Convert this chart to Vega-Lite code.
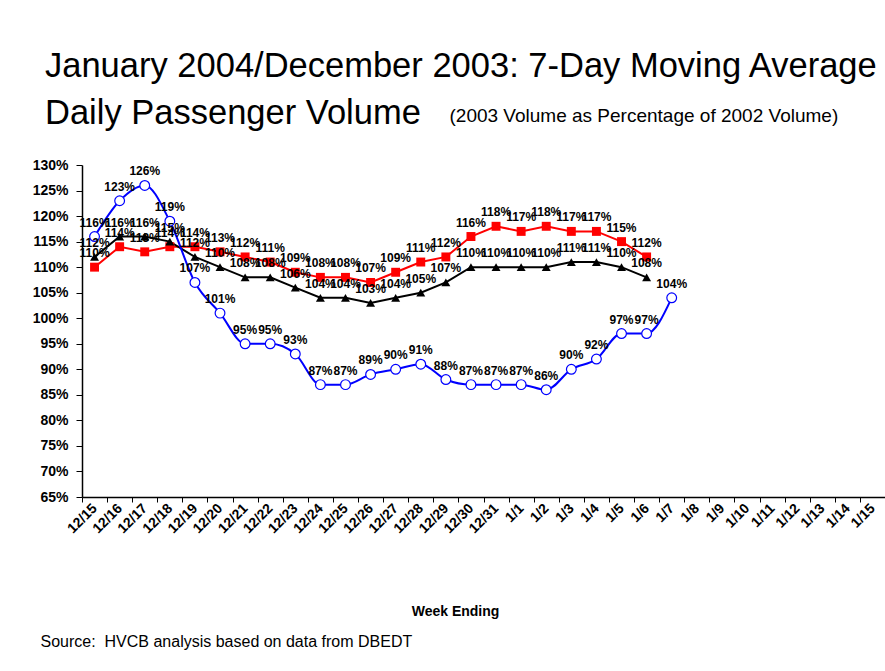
{
  "$schema": "https://vega.github.io/schema/vega-lite/v6.json",
  "width": 803,
  "height": 332,
  "autosize": {"type": "none"},
  "padding": {"left": 82, "top": 165, "right": 0, "bottom": 174},
  "background": "white",
  "config": {"view": {"stroke": null}, "font": "Liberation Sans"},
  "title": {
    "text": ["January 2004/December 2003: 7-Day Moving Average", "Daily Passenger Volume"],
    "anchor": "start",
    "frame": "group",
    "dx": -37,
    "dy": 52,
    "font": "Liberation Sans",
    "fontSize": 34.5,
    "fontWeight": "normal",
    "lineHeight": 47,
    "color": "black",
    "offset": 27
  },
  "data": {
    "values": [
      {"d": "12/15", "s": "Domestic", "v": 110}, {"d": "12/16", "s": "Domestic", "v": 114}, {"d": "12/17", "s": "Domestic", "v": 113},
      {"d": "12/18", "s": "Domestic", "v": 114}, {"d": "12/19", "s": "Domestic", "v": 114}, {"d": "12/20", "s": "Domestic", "v": 113},
      {"d": "12/21", "s": "Domestic", "v": 112}, {"d": "12/22", "s": "Domestic", "v": 111}, {"d": "12/23", "s": "Domestic", "v": 109},
      {"d": "12/24", "s": "Domestic", "v": 108}, {"d": "12/25", "s": "Domestic", "v": 108}, {"d": "12/26", "s": "Domestic", "v": 107},
      {"d": "12/27", "s": "Domestic", "v": 109}, {"d": "12/28", "s": "Domestic", "v": 111}, {"d": "12/29", "s": "Domestic", "v": 112},
      {"d": "12/30", "s": "Domestic", "v": 116}, {"d": "12/31", "s": "Domestic", "v": 118}, {"d": "1/1", "s": "Domestic", "v": 117},
      {"d": "1/2", "s": "Domestic", "v": 118}, {"d": "1/3", "s": "Domestic", "v": 117}, {"d": "1/4", "s": "Domestic", "v": 117},
      {"d": "1/5", "s": "Domestic", "v": 115}, {"d": "1/6", "s": "Domestic", "v": 112},
      {"d": "12/15", "s": "Total", "v": 112}, {"d": "12/16", "s": "Total", "v": 116}, {"d": "12/17", "s": "Total", "v": 116},
      {"d": "12/18", "s": "Total", "v": 115}, {"d": "12/19", "s": "Total", "v": 112}, {"d": "12/20", "s": "Total", "v": 110},
      {"d": "12/21", "s": "Total", "v": 108}, {"d": "12/22", "s": "Total", "v": 108}, {"d": "12/23", "s": "Total", "v": 106},
      {"d": "12/24", "s": "Total", "v": 104}, {"d": "12/25", "s": "Total", "v": 104}, {"d": "12/26", "s": "Total", "v": 103},
      {"d": "12/27", "s": "Total", "v": 104}, {"d": "12/28", "s": "Total", "v": 105}, {"d": "12/29", "s": "Total", "v": 107},
      {"d": "12/30", "s": "Total", "v": 110}, {"d": "12/31", "s": "Total", "v": 110}, {"d": "1/1", "s": "Total", "v": 110},
      {"d": "1/2", "s": "Total", "v": 110}, {"d": "1/3", "s": "Total", "v": 111}, {"d": "1/4", "s": "Total", "v": 111},
      {"d": "1/5", "s": "Total", "v": 110}, {"d": "1/6", "s": "Total", "v": 108},
      {"d": "12/15", "s": "Japan", "v": 116}, {"d": "12/16", "s": "Japan", "v": 123}, {"d": "12/17", "s": "Japan", "v": 126},
      {"d": "12/18", "s": "Japan", "v": 119}, {"d": "12/19", "s": "Japan", "v": 107}, {"d": "12/20", "s": "Japan", "v": 101},
      {"d": "12/21", "s": "Japan", "v": 95}, {"d": "12/22", "s": "Japan", "v": 95}, {"d": "12/23", "s": "Japan", "v": 93},
      {"d": "12/24", "s": "Japan", "v": 87}, {"d": "12/25", "s": "Japan", "v": 87}, {"d": "12/26", "s": "Japan", "v": 89},
      {"d": "12/27", "s": "Japan", "v": 90}, {"d": "12/28", "s": "Japan", "v": 91}, {"d": "12/29", "s": "Japan", "v": 88},
      {"d": "12/30", "s": "Japan", "v": 87}, {"d": "12/31", "s": "Japan", "v": 87}, {"d": "1/1", "s": "Japan", "v": 87},
      {"d": "1/2", "s": "Japan", "v": 86}, {"d": "1/3", "s": "Japan", "v": 90}, {"d": "1/4", "s": "Japan", "v": 92},
      {"d": "1/5", "s": "Japan", "v": 97}, {"d": "1/6", "s": "Japan", "v": 97}, {"d": "1/7", "s": "Japan", "v": 104}
    ]
  },
  "resolve": {"axis": {"y": "independent"}},
  "layer": [
    {
      "encoding": {
        "x": {
          "field": "d",
          "type": "nominal",
          "sort": null,
          "scale": {
            "type": "band",
            "paddingInner": 0,
            "paddingOuter": 0,
            "domain": ["12/15","12/16","12/17","12/18","12/19","12/20","12/21","12/22","12/23","12/24","12/25","12/26","12/27","12/28","12/29","12/30","12/31","1/1","1/2","1/3","1/4","1/5","1/6","1/7","1/8","1/9","1/10","1/11","1/12","1/13","1/14","1/15"]
          },
          "axis": {
            "title": "Week Ending",
            "titleFont": "Liberation Sans",
            "titleFontWeight": "bold",
            "titleFontSize": 14,
            "titleColor": "black",
            "titleX": 373,
            "titleY": 118,
            "titleAlign": "center",
            "titleBaseline": "alphabetic",
            "titleAnchor": null,
            "labelAngle": -45,
            "labelAlign": "right",
            "labelBaseline": "middle",
            "labelFontWeight": "bold",
            "labelFontSize": 14,
            "labelColor": "black",
            "labelPadding": 4,
            "tickBand": "extent",
            "tickColor": "black",
            "tickSize": 5,
            "domainColor": "black",
            "domainWidth": 1.5,
            "grid": false
          }
        },
        "y": {
          "field": "v",
          "type": "quantitative",
          "scale": {"domain": [65, 130], "nice": false, "zero": false},
          "axis": {
            "orient": "left",
            "title": "Source:\u00a0 HVCB analysis based on data from DBEDT",
            "titleFont": "Liberation Sans",
            "titleAngle": 0,
            "titleX": -42,
            "titleY": 481,
            "titleAlign": "left",
            "titleBaseline": "alphabetic",
            "titleAnchor": null,
            "titleFontWeight": "normal",
            "titleFontSize": 16,
            "titleColor": "black",
            "values": [65, 70, 75, 80, 85, 90, 95, 100, 105, 110, 115, 120, 125, 130],
            "labelExpr": "datum.value + '%'",
            "labelFontWeight": "bold",
            "labelFontSize": 14,
            "labelColor": "black",
            "labelPadding": 8,
            "tickSize": 6,
            "tickColor": "black",
            "domainColor": "black",
            "domainWidth": 1.5,
            "grid": false
          }
        }
      },
      "layer": [
        {
          "data": {"values": [{}]},
          "mark": {"type": "rule", "color": "black", "strokeWidth": 1.5},
          "encoding": {"x": null, "y": {"datum": 130, "type": "quantitative"}}
        },
        {
          "data": {"values": [{}]},
          "mark": {"type": "rule", "color": "black", "strokeWidth": 4, "strokeDash": [4, 3]},
          "encoding": {"x": null, "y": {"datum": 100, "type": "quantitative"}}
        },
        {
          "transform": [{"filter": "datum.s === 'Domestic'"}],
          "mark": {"type": "line", "color": "#ff0000", "strokeWidth": 2},
          "encoding": {"x": {"field": "d", "type": "nominal", "bandPosition": 0.5}}
        },
        {
          "transform": [{"filter": "datum.s === 'Total'"}],
          "mark": {"type": "line", "color": "black", "strokeWidth": 2},
          "encoding": {"x": {"field": "d", "type": "nominal", "bandPosition": 0.5}}
        },
        {
          "transform": [{"filter": "datum.s === 'Japan'"}],
          "mark": {"type": "line", "color": "#0000ff", "strokeWidth": 2, "interpolate": "monotone"},
          "encoding": {"x": {"field": "d", "type": "nominal", "bandPosition": 0.5}}
        },
        {
          "transform": [{"filter": "datum.s === 'Domestic'"}],
          "mark": {"type": "point", "shape": "square", "filled": true, "color": "#ff0000", "size": 80, "opacity": 1},
          "encoding": {"x": {"field": "d", "type": "nominal", "bandPosition": 0.5}}
        },
        {
          "transform": [{"filter": "datum.s === 'Total'"}],
          "mark": {"type": "point", "shape": "triangle-up", "filled": true, "color": "black", "size": 80, "opacity": 1},
          "encoding": {"x": {"field": "d", "type": "nominal", "bandPosition": 0.5}}
        },
        {
          "transform": [{"filter": "datum.s === 'Japan'"}],
          "mark": {"type": "point", "shape": "circle", "filled": true, "fill": "white", "stroke": "#0000ff", "strokeWidth": 1.2, "size": 95, "opacity": 1},
          "encoding": {"x": {"field": "d", "type": "nominal", "bandPosition": 0.5}}
        },
        {
          "transform": [{"calculate": "datum.v + '%'", "as": "lbl"}],
          "mark": {"type": "text", "dy": -14, "fontWeight": "bold", "fontSize": 12, "color": "black", "font": "Liberation Sans"},
          "encoding": {"x": {"field": "d", "type": "nominal", "bandPosition": 0.5}, "text": {"field": "lbl"}}
        },
        {
          "data": {"values": [{}]},
          "mark": {"type": "text", "text": "Domestic", "align": "left", "baseline": "middle", "dx": 4, "fontWeight": "bold", "fontSize": 13.5, "color": "#ff3300"},
          "encoding": {"x": {"datum": "1/9", "bandPosition": 0}, "y": {"datum": 119.6, "type": "quantitative"}}
        },
        {
          "data": {"values": [{}]},
          "mark": {"type": "text", "text": "Passengers", "align": "left", "baseline": "middle", "dx": 4, "fontWeight": "bold", "fontSize": 13.5, "color": "#ff3300"},
          "encoding": {"x": {"datum": "1/9", "bandPosition": 0}, "y": {"datum": 116.1, "type": "quantitative"}}
        },
        {
          "data": {"values": [{}]},
          "mark": {"type": "text", "text": "Total Passengers", "align": "left", "baseline": "middle", "dx": 4, "fontWeight": "bold", "fontSize": 13.5, "color": "black"},
          "encoding": {"x": {"datum": "1/9", "bandPosition": 0}, "y": {"datum": 111.0, "type": "quantitative"}}
        },
        {
          "data": {"values": [{}]},
          "mark": {"type": "text", "text": "(excluding Canada)", "align": "left", "baseline": "middle", "dx": 4, "fontWeight": "normal", "fontSize": 13, "color": "black"},
          "encoding": {"x": {"datum": "1/9", "bandPosition": 0}, "y": {"datum": 107.5, "type": "quantitative"}}
        },
        {
          "data": {"values": [{}]},
          "mark": {"type": "text", "text": "Japan Passengers", "align": "left", "baseline": "middle", "dx": 4, "fontWeight": "bold", "fontSize": 13.5, "color": "#3535c8"},
          "encoding": {"x": {"datum": "1/9", "bandPosition": 0}, "y": {"datum": 96.3, "type": "quantitative"}}
        },
        {
          "data": {"values": [{}]},
          "mark": {"type": "text", "text": "(international flights)", "align": "left", "baseline": "middle", "dx": 4, "fontWeight": "bold", "fontSize": 13.5, "color": "#3535c8"},
          "encoding": {"x": {"datum": "1/9", "bandPosition": 0}, "y": {"datum": 93.0, "type": "quantitative"}}
        }
      ]
    },
    {
      "data": {"values": [{}]},
      "mark": {"type": "rule", "opacity": 0},
      "encoding": {
        "y": {
          "datum": 130,
          "type": "quantitative",
          "axis": {
            "orient": "right",
            "domain": false,
            "ticks": false,
            "labels": false,
            "grid": false,
            "title": "(2003 Volume as Percentage of 2002 Volume)",
            "titleFont": "Liberation Sans",
            "titleFontWeight": "normal",
            "titleFontSize": 19,
            "titleColor": "black",
            "titleAngle": 0,
            "titleAlign": "left",
            "titleBaseline": "alphabetic",
            "titleAnchor": null,
            "titleX": -436,
            "titleY": -44
          }
        }
      }
    }
  ]
}
